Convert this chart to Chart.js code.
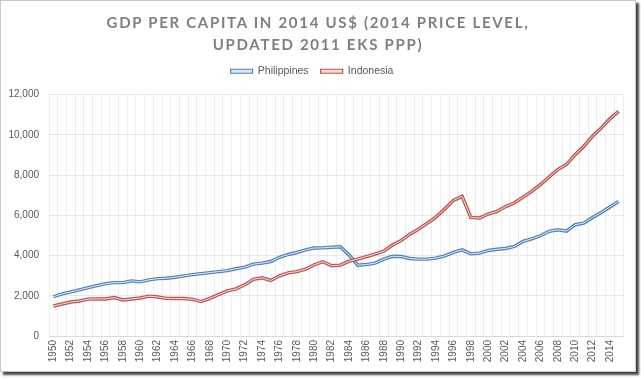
<!DOCTYPE html>
<html>
<head>
<meta charset="utf-8">
<script src="https://cdn.jsdelivr.net/npm/chart.js@4.4.1/dist/chart.umd.min.js"></script>
<style>
  html, body { margin: 0; padding: 0; background: #ffffff; }
  #frame {
    position: absolute; left: 0; top: 0;
    width: 634px; height: 370px;
    border: 1px solid #c8c8c8;
    box-shadow: 3px 3px 2px rgba(40,40,40,0.85);
    background: #ffffff;
  }
  #title {
    position: absolute; left: 0; top: 10px; width: 634px;
    text-align: center;
    font-family: Lato, "Open Sans", sans-serif; font-weight: 700;
    font-size: 15px; line-height: 22px; letter-spacing: 1.7px;
    color: #7f7f7f;
    z-index: 2;
  }
  #wrap { position: absolute; left: 0; top: 0; width: 634px; height: 370px; }
</style>
</head>
<body>
<div id="frame">
  <div id="wrap"><canvas id="c"></canvas></div>
  <div id="title"></div>
</div>
<script>
const titleLines = ["GDP PER CAPITA IN 2014 US$ (2014 PRICE LEVEL,", "UPDATED 2011 EKS PPP)"];
const seriesNames = ["Philippines", "Indonesia"];
const years = [];
for (let y = 1950; y <= 2015; y++) years.push(String(y));

const philippines = [
  1950, 2090, 2190, 2290, 2400, 2500, 2600, 2650, 2650, 2740,
  2690, 2790, 2850, 2870, 2920, 2990, 3050, 3100, 3150, 3200,
  3250, 3340, 3420, 3570, 3620, 3700, 3910, 4050, 4150, 4280,
  4370, 4380, 4410, 4430, 4030, 3520, 3550, 3620, 3820, 3960,
  3950, 3850, 3820, 3820, 3870, 3980, 4150, 4280, 4080, 4120,
  4250, 4310, 4350, 4450, 4700, 4830, 4980, 5200, 5280, 5210,
  5530, 5610, 5890, 6140, 6410, 6690
];
const indonesia = [
  1490, 1590, 1690, 1740, 1830, 1840, 1840, 1910, 1790, 1840,
  1890, 1980, 1940, 1870, 1860, 1860, 1820, 1710, 1870, 2060,
  2240, 2340, 2540, 2820, 2890, 2760, 2990, 3140, 3200, 3320,
  3540, 3690, 3490, 3520, 3720, 3820, 3950, 4070, 4220, 4520,
  4750, 5060, 5310, 5610, 5910, 6310, 6740, 6940, 5890, 5860,
  6060, 6190, 6430, 6610, 6900, 7190, 7520, 7900, 8270, 8520,
  9010, 9430, 9930, 10340, 10790, 11170
];
const yTicks = [0, 2000, 4000, 6000, 8000, 10000, 12000];

const colors = ["#4f81bd", "#c0504d"];
const lightColors = ["#dce6f2", "#f2dcdb"];

document.getElementById('title').innerHTML = titleLines.map(t => '<div>' + t.replace(/&/g,'&amp;') + '</div>').join('');

const legendMargin = {
  id: 'legendMargin',
  beforeInit(chart) {
    const lg = chart.legend;
    if (!lg) return;
    const fit = lg.fit;
    lg.fit = function () { fit.call(this); this.height += 8; };
  }
};

const ds = [];
[philippines, indonesia].forEach((data, i) => {
  ds.push({
    label: seriesNames[i], data: data,
    borderColor: colors[i], backgroundColor: lightColors[i],
    borderWidth: 3.4, pointRadius: 0, tension: 0, fill: false,
    order: 10 - i * 2
  });
  ds.push({
    label: seriesNames[i] + '_inner', data: data,
    borderColor: 'rgba(255,255,255,0.85)', backgroundColor: 'rgba(0,0,0,0)',
    borderWidth: 1, pointRadius: 0, tension: 0, fill: false,
    order: 9 - i * 2
  });
});

new Chart(document.getElementById('c'), {
  type: 'line',
  data: { labels: years, datasets: ds },
  plugins: [legendMargin],
  options: {
    responsive: true, maintainAspectRatio: false, animation: false,
    layout: { padding: { top: 53, right: 12, left: 0, bottom: 0 } },
    plugins: {
      tooltip: { enabled: false },
      title: { display: false },
      legend: {
        display: true, position: 'top',
        labels: {
          boxWidth: 22, boxHeight: 4, padding: 12,
          color: '#595959',
          font: { family: 'Liberation Sans, Arial, sans-serif', size: 10.5 },
          filter: (item) => !item.text.endsWith('_inner'),
          generateLabels: (chart) => seriesNames.map((n, i) => ({
            text: n, fillStyle: lightColors[i], strokeStyle: colors[i],
            lineWidth: 1.2, hidden: false, datasetIndex: i * 2, fontColor: '#595959'
          }))
        }
      }
    },
    scales: {
      x: {
        type: 'category', offset: true,
        grid: { offset: true, color: '#ececec', lineWidth: 1, drawTicks: false },
        border: { display: true, color: '#d9d9d9' },
        ticks: {
          autoSkip: false, minRotation: 90, maxRotation: 90, padding: 4,
          color: '#595959',
          font: { family: 'Liberation Sans, Arial, sans-serif', size: 10 },
          callback: function (v, idx) { return idx % 2 === 0 ? years[idx] : ''; }
        },
        afterFit: (s) => { s.height = 35; }
      },
      y: {
        min: 0, max: 12000,
        afterBuildTicks: (s) => { s.ticks = yTicks.map(v => ({ value: v })); },
        grid: { color: '#e8e8e8', drawTicks: false },
        border: { display: false },
        ticks: {
          padding: 10, color: '#595959',
          font: { family: 'Liberation Sans, Arial, sans-serif', size: 10 },
          callback: (v) => v.toLocaleString('en-US')
        },
        afterFit: (s) => { s.width = 48; }
      }
    }
  }
});
</script>
</body>
</html>
